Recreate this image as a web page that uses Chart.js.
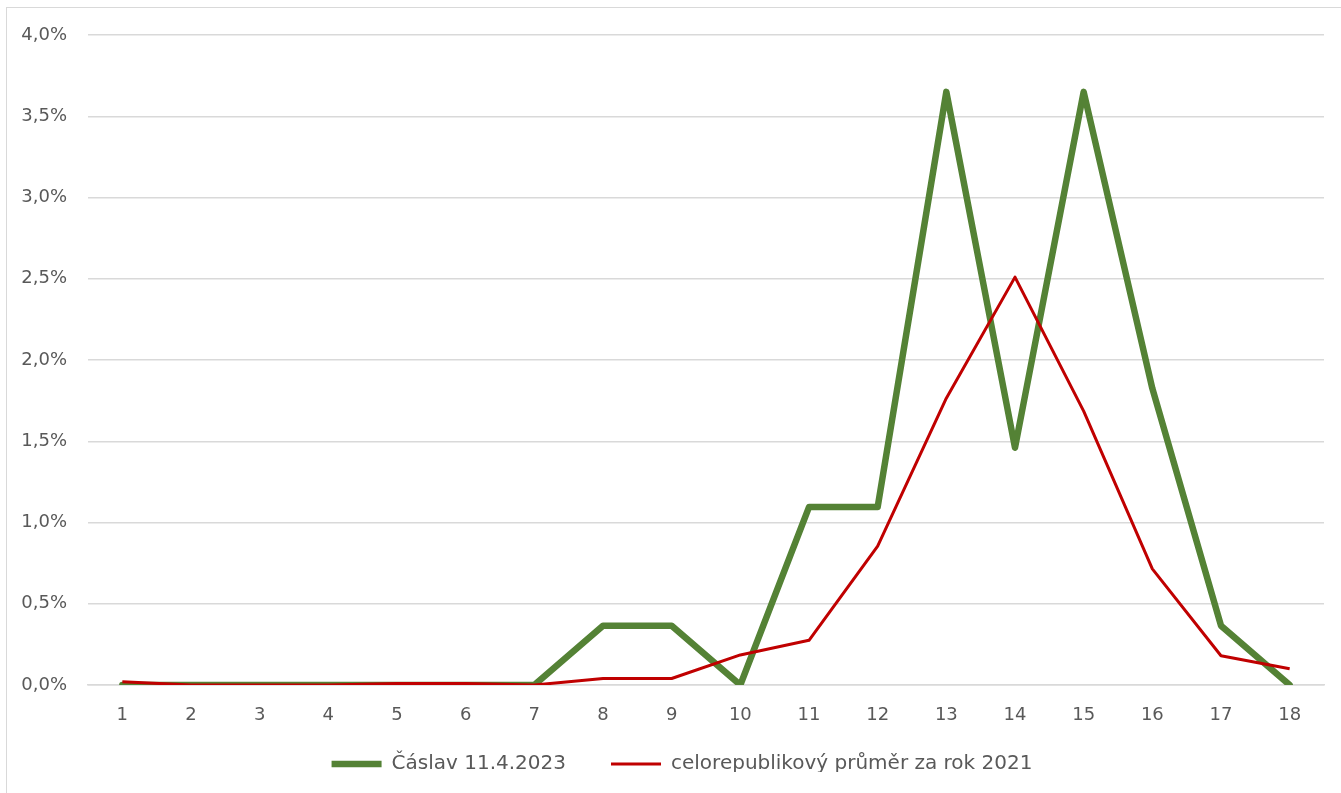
<!DOCTYPE html>
<html>
<head>
<meta charset="utf-8">
<script src="https://cdn.jsdelivr.net/npm/chart.js@4.4.0/dist/chart.umd.min.js"></script>
<style>
  html, body { margin: 0; padding: 0; background: #ffffff; overflow: hidden; }
  #frame { position: absolute; left: 6px; top: 7px; width: 1400px; height: 900px; border: 1px solid #d9d9d9; box-sizing: border-box; }
  #wrap { position: absolute; left: 0; top: 0; width: 1341px; height: 793px; }
</style>
</head>
<body>
<div id="frame"></div>
<div id="wrap"><canvas id="c" width="1341" height="793"></canvas></div>
<script>
const categories = ['1','2','3','4','5','6','7','8','9','10','11','12','13','14','15','16','17','18'];
const caslav = [0, 0, 0, 0, 0, 0, 0, 0.365, 0.365, 0, 1.095, 1.095, 3.65, 1.46, 3.65, 1.825, 0.365, 0];
const prumer = [0.02, 0.0, 0.0, 0.0, 0.01, 0.01, 0.0, 0.04, 0.04, 0.185, 0.275, 0.855, 1.765, 2.51, 1.685, 0.715, 0.18, 0.10];
const yTickLabels = ['0,0%','0,5%','1,0%','1,5%','2,0%','2,5%','3,0%','3,5%','4,0%'];
const seriesNames = ['Čáslav 11.4.2023', 'celorepublikový průměr za rok 2021'];

const FONT = '"DejaVu Sans", sans-serif';
const TXT = '#595959';

// Fix the legend box height and nudge it to match the reference layout
const legendTweak = {
  id: 'legendTweak',
  afterInit(chart) {
    const lg = chart.legend;
    if (lg && !lg._patched) {
      const orig = lg.fit.bind(lg);
      lg.fit = function () { orig(); this.height = 63; };
      lg._patched = true;
    }
  },
  afterLayout(chart) {
    const lg = chart.legend;
    if (lg) {
      lg.left -= 24; lg.right -= 24;
      lg.top -= 21; lg.bottom -= 21;
    }
  }
};

new Chart(document.getElementById('c'), {
  type: 'line',
  data: {
    labels: categories,
    datasets: [
      {
        label: seriesNames[0],
        data: caslav,
        borderColor: '#548235',
        backgroundColor: '#548235',
        borderWidth: 6.5,
        borderJoinStyle: 'round',
        borderCapStyle: 'round',
        pointRadius: 0,
        tension: 0,
        order: 1
      },
      {
        label: seriesNames[1],
        data: prumer,
        borderColor: '#c00000',
        backgroundColor: '#c00000',
        borderWidth: 3,
        borderJoinStyle: 'round',
        borderCapStyle: 'butt',
        pointRadius: 0,
        tension: 0,
        order: 0
      }
    ]
  },
  plugins: [legendTweak],
  options: {
    responsive: false,
    animation: false,
    devicePixelRatio: 1,
    layout: { padding: { left: 0, right: 17, top: 35, bottom: 0 } },
    plugins: {
      title: { display: false },
      tooltip: { enabled: false },
      legend: {
        position: 'bottom',
        fullSize: false,
        labels: {
          usePointStyle: true,
          pointStyle: 'line',
          pointStyleWidth: 50,
          padding: 45,
          color: TXT,
          font: { family: FONT, size: 20 },
          sort: (a, b) => a.datasetIndex - b.datasetIndex
        }
      }
    },
    scales: {
      x: {
        offset: true,
        grid: { display: false, drawTicks: false },
        border: { display: true, color: '#d9d9d9', width: 1.5 },
        ticks: { color: TXT, font: { family: FONT, size: 18 }, padding: 20, maxRotation: 0, autoSkip: false },
        afterFit: (s) => { s.height = 45; }
      },
      y: {
        min: 0,
        max: 4,
        grid: { color: '#d9d9d9', lineWidth: 1.5, drawTicks: false },
        border: { display: false },
        ticks: {
          stepSize: 0.5,
          color: TXT,
          font: { family: FONT, size: 18 },
          padding: 21,
          callback: (v, i) => yTickLabels[i]
        },
        afterFit: (s) => { s.width = 88; }
      }
    }
  }
});
</script>
</body>
</html>
